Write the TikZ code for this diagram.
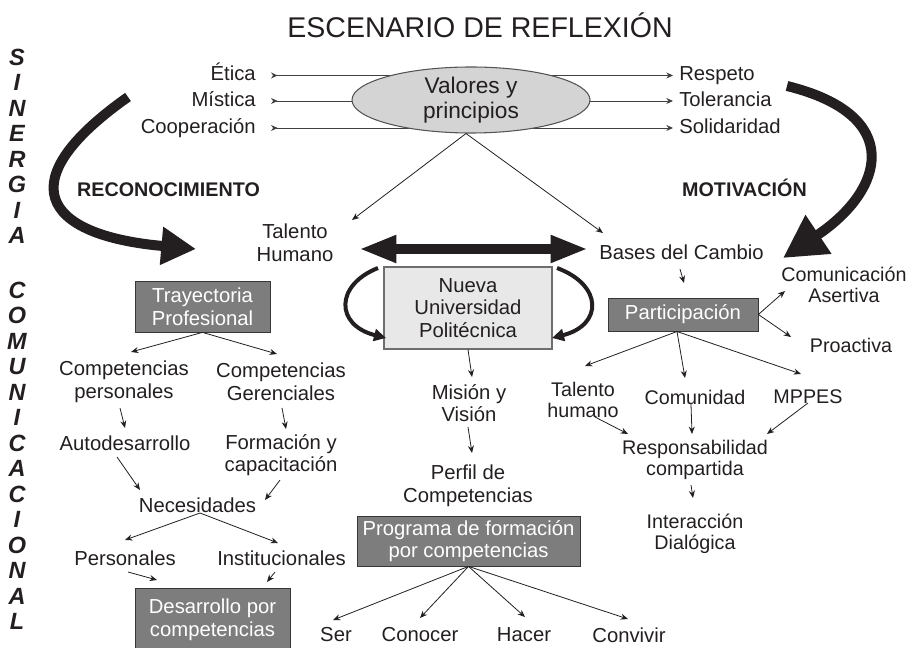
\documentclass[tikz,border=0pt]{standalone}
\usepackage{fontspec}
\setmainfont{Liberation Sans}
\usetikzlibrary{arrows.meta,shapes.geometric}
\pgfdeclarelayer{bg}
\pgfsetlayers{bg,main}
\definecolor{ink}{RGB}{35,31,32}
\definecolor{dkfill}{RGB}{125,125,125}
\definecolor{dkline}{RGB}{55,55,55}
\definecolor{ltfill}{RGB}{232,232,232}
\definecolor{ltline}{RGB}{110,110,110}
\definecolor{elfill}{RGB}{212,212,212}
\definecolor{elline}{RGB}{85,85,85}
\begin{document}
\begin{tikzpicture}[x=0.75pt,y=-0.75pt,
  every node/.style={text=ink},
  lbl/.style={font=\fontsize{15.2}{17}\selectfont, align=center, inner sep=0pt},
  lblr/.style={font=\fontsize{14.8}{15.6}\selectfont, align=center, inner sep=0pt},
  side/.style={lbl, text height=11pt, text depth=3.2pt},
  dbox/.style={draw=dkline, line width=0.6pt, fill=dkfill, text=white, font=\fontsize{15.2}{17}\selectfont, align=center, inner sep=0pt},
  lbox/.style={draw=ltline, line width=0.8pt, fill=ltfill, font=\fontsize{15.2}{17}\selectfont, align=center, inner sep=0pt},
  head/.style={font=\bfseries\fontsize{14.8}{17}\selectfont, inner sep=0pt},
  vlet/.style={font=\bfseries\itshape\fontsize{17.6}{20}\selectfont, inner sep=0pt},
  arr/.style={-{Stealth[length=5.5pt,width=4.5pt]}, line width=0.6pt, draw=ink},
  hline/.style={line width=0.7pt, draw=black!75},
  bigarrow/.style={line width=7.5pt, draw=ink},
  curvarr/.style={line width=3pt, draw=ink, -{Triangle[length=9pt,width=9pt]}}
]
\useasboundingbox (0,0) rectangle (918,648);

% title and side words
\node[font=\fontsize{21.4}{24}\selectfont, inner sep=0pt] (title) at (480,25) {ESCENARIO DE REFLEXIÓN};
\foreach \l [count=\i] in {S,I,N,E,R,G,I,A}
  \node[vlet] (sa\i) at (17,{57+25.5*(\i-1)}) {\l};
\foreach \l [count=\i] in {C,O,M,U,N,I,C,A,C,I,O,N,A,L}
  \node[vlet] (sb\i) at (17,{290+25.5*(\i-1)}) {\l};
\node[head] (rec) at (168.5,190) {RECONOCIMIENTO};
\node[head] (mot) at (744.5,188) {MOTIVACIÓN};

% ellipse and values
\node[ellipse, draw=elline, fill=elfill, line width=0.8pt, minimum width=178.5pt, minimum height=49.5pt, inner sep=0pt, align=center, font=\fontsize{17}{19}\selectfont] (ell) at (471,100) {Valores y\\principios};
\node[side, anchor=east] (eti) at (256,75.5) {Ética};
\node[side, anchor=east] (mis) at (256,101) {Mística};
\node[side, anchor=east] (coo) at (256,128) {Cooperación};
\node[side, anchor=west] (res) at (679,75.5) {Respeto};
\node[side, anchor=west] (tol) at (679,101) {Tolerancia};
\node[side, anchor=west] (sol) at (679,128) {Solidaridad};
\begin{pgfonlayer}{bg}
\foreach \n in {eti,mis,coo}
  \draw[hline, {Stealth[reversed,length=5pt,width=4.5pt]}-] ([xshift=11.25pt]\n.east) -- (\n.east -| ell.center);
\foreach \n in {res,tol,sol}
  \draw[hline, -{Stealth[length=5pt,width=4.5pt]}] (\n.west -| ell.center) -- ([xshift=-4.5pt]\n.west);
\end{pgfonlayer}

% big curved arrows
\coordinate (la0) at (128,97);
\coordinate (la1) at (196,249);
\coordinate (ra0) at (787,86);
\coordinate (ra1) at (783,258);
\draw[bigarrow, -{Triangle[length=26pt,width=27pt]}] (la0) .. controls (10,180) and (40,235) .. (la1);
\draw[bigarrow, -{Triangle[length=32pt,width=33pt]}] (ra0) .. controls (905,115) and (885,190) .. (ra1);

% centre column
\node[lbl] (tal) at (295,243) {Talento\\Humano};
\node[lbl] (bas) at (681.5,252) {Bases del Cambio};
\draw[arr] ([xshift=-3.75pt]ell.south) -- ([shift={(57,-23)}]tal.center);
\draw[arr] ([xshift=-3.75pt]ell.south) -- ([shift={(-78.5,-19)}]bas.center);
\draw[line width=8pt, draw=ink, {Triangle[length=28pt,width=19pt]}-{Triangle[length=28pt,width=19pt]}] ([shift={(64,6)}]tal.center) -- ([shift={(-93.5,-3)}]bas.center);

\node[lbox, minimum width=126pt, minimum height=61.5pt] (nup) at (468,308) {Nueva\\Universidad\\Politécnica};
\draw[curvarr] ([shift={(-90,-40)}]nup.center) .. controls ([shift={(-133,-23)}]nup.center) and ([shift={(-133,17)}]nup.center) .. ([shift={(-82,30)}]nup.center);
\draw[curvarr] ([shift={(89,-40)}]nup.center) .. controls ([shift={(135,-23)}]nup.center) and ([shift={(135,17)}]nup.center) .. ([shift={(84,30)}]nup.center);

\node[lbl] (mv) at (469,403) {Misión y\\Visión};
\node[lbl] (pc) at (468,486) {Perfil de\\Competencias};
\node[dbox, minimum width=167.25pt, minimum height=37.5pt] (pf) at (468.5,541) {Programa de formación\\por competencias};
\node[lbl] (ser) at (336,635) {Ser};
\node[lbl] (con) at (420,635) {Conocer};
\node[lbl] (hac) at (524,635) {Hacer};
\node[lbl] (conv) at (629,635) {Convivir};
\draw[arr] (nup.south) -- ([shift={(3,-26)}]mv.center);
\draw[arr] ([shift={(-1,24)}]mv.center) -- ([shift={(4,-33)}]pc.center);
\draw[arr] (pf.south) -- ([shift={(-3,-15)}]ser.center);
\draw[arr] (pf.south) -- ([shift={(0,-17)}]con.center);
\draw[arr] (pf.south) -- ([shift={(1,-18)}]hac.center);
\draw[arr] (pf.south) -- ([shift={(-1,-16)}]conv.center);

% left column
\node[dbox, minimum width=101.25pt, minimum height=38.25pt] (tp) at (202.5,306.5) {Trayectoria\\Profesional};
\node[lbl] (cp) at (124,381.5) {Competencias\\personales};
\node[lbl] (cg) at (281,381.5) {Competencias\\Gerenciales};
\node[lbl] (aut) at (125,443) {Autodesarrollo};
\node[lbl] (for) at (281,455) {Formación y\\capacitación};
\node[lbl] (nec) at (197.5,505) {Necesidades};
\node[lbl] (per) at (125,558) {Personales};
\node[lbl] (ins) at (281.5,558) {Institucionales};
\node[dbox, minimum width=116.25pt, minimum height=48pt] (dpc) at (212.5,620) {Desarrollo por\\competencias};
\draw[arr] (tp.south) -- ([shift={(7,-29.5)}]cp.center);
\draw[arr] (tp.south) -- ([shift={(-4,-27.5)}]cg.center);
\draw[arr] ([shift={(-4,26.5)}]cp.center) -- ([shift={(0,-15)}]aut.center);
\draw[arr] ([shift={(1,26.5)}]cg.center) -- ([shift={(5,-26)}]for.center);
\draw[arr] ([shift={(-8,14)}]aut.center) -- ([shift={(-57.5,-15)}]nec.center);
\draw[arr] ([shift={(-1,25)}]for.center) -- ([shift={(67.5,-5)}]nec.center);
\draw[arr] ([shift={(2.5,8)}]nec.center) -- ([shift={(0,-18)}]per.center);
\draw[arr] ([shift={(2.5,8)}]nec.center) -- ([shift={(-3.5,-15)}]ins.center);
\draw[arr] ([shift={(3,14)}]per.center) -- ([shift={(-55.5,-40)}]dpc.center);
\draw[arr] ([shift={(-6.5,14)}]ins.center) -- ([shift={(54.5,-38)}]dpc.center);

% right column
\node[dbox, minimum width=112.5pt, minimum height=24.75pt] (par) at (683,314.5) {Participación};
\node[lblr] (ca) at (844,285) {Comunicación\\Asertiva};
\node[lblr] (pro) at (851,345) {Proactiva};
\node[lblr] (th) at (583,400) {Talento\\humano};
\node[lblr] (com) at (695,397) {Comunidad};
\node[lblr] (mpp) at (808,397) {MPPES};
\node[lblr] (rc) at (695,460) {Responsabilidad\\compartida};
\node[lblr] (id) at (695,534) {Interacción\\Dialógica};
\draw[arr] ([shift={(-1.5,17)}]bas.center) -- ([shift={(1,-31.5)}]par.center);
\draw[arr] (par.east) -- ([shift={(-59,6)}]ca.center);
\draw[arr] (par.east) -- ([shift={(-60,-8)}]pro.center);
\draw[arr] ([shift={(-6,17)}]par.center) -- ([shift={(2,-34)}]th.center);
\draw[arr] ([shift={(-6,17)}]par.center) -- ([shift={(-10,-19)}]com.center);
\draw[arr] ([shift={(-6,17)}]par.center) -- ([shift={(-7,-23)}]mpp.center);
\draw[arr] ([shift={(12,17)}]th.center) -- ([shift={(-67,-26)}]rc.center);
\draw[arr] ([shift={(-4,7)}]com.center) -- ([shift={(-3,-26)}]rc.center);
\draw[arr] ([shift={(0,6)}]mpp.center) -- ([shift={(72,-26)}]rc.center);
\draw[arr] ([shift={(-4,25)}]rc.center) -- ([shift={(-2,-36)}]id.center);
\end{tikzpicture}
\end{document}
